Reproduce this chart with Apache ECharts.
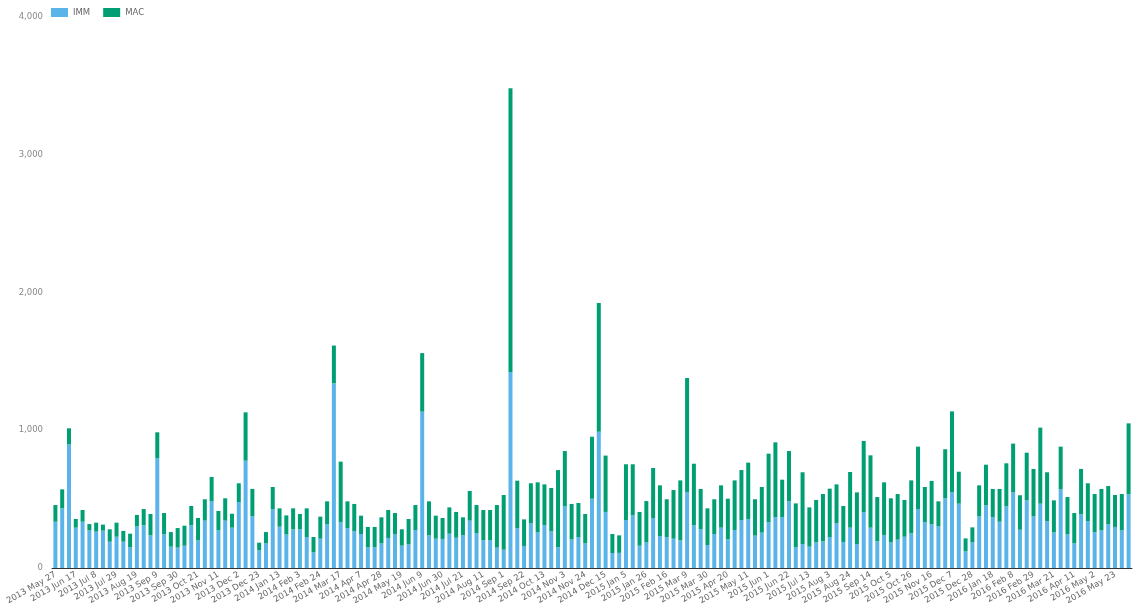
<!DOCTYPE html>
<html>
<head>
<meta charset="utf-8">
<script src="https://cdn.jsdelivr.net/npm/echarts@6/dist/echarts.min.js"></script>
<style>html,body{margin:0;padding:0;background:#fff}#c{width:1137px;height:609px}</style>
</head>
<body>
<div id="c"></div>
<script>
// Weekly categories, starting 2013 May 27 (159 weeks)
const startDate = [2013, 4, 27];
const weekCount = 159;
const monthNames = ['Jan','Feb','Mar','Apr','May','Jun','Jul','Aug','Sep','Oct','Nov','Dec'];
const categories = [];
for (let i = 0; i < weekCount; i++) {
  const d = new Date(Date.UTC(startDate[0], startDate[1], startDate[2] + 7 * i));
  categories.push(d.getUTCFullYear() + ' ' + monthNames[d.getUTCMonth()] + ' ' + d.getUTCDate());
}

const imm = [336,433,898,293,336,273,264,271,191,227,191,150,302,310,237,796,244,155,148,162,
310,201,344,484,273,344,293,479,779,375,128,179,426,300,244,281,281,225,114,213,
317,1340,332,290,266,247,150,150,179,218,244,162,172,276,1135,237,213,211,249,220,
237,344,252,201,201,148,133,1422,288,160,324,259,310,266,150,448,208,225,179,503,
990,407,109,110,348,382,162,186,363,232,223,213,201,552,310,281,167,247,293,208,
276,348,356,235,257,332,370,370,484,150,174,155,186,194,225,324,189,293,174,404,
293,194,240,186,206,227,252,428,332,317,302,506,549,467,121,186,375,455,368,336,
448,549,278,491,375,467,339,259,571,244,179,390,339,259,273,317,298,273,535];

const mac = [121,138,116,63,85,46,65,44,90,102,78,99,83,118,155,189,155,106,142,145,
140,162,155,177,141,162,101,136,351,199,56,82,162,133,138,152,111,208,111,160,
167,275,440,194,199,133,148,148,189,203,155,119,184,181,425,247,167,152,191,187,
131,215,205,220,220,309,397,2061,346,193,291,363,297,315,561,401,257,247,213,450,
933,409,138,127,405,371,245,300,363,368,276,353,435,827,447,293,266,252,307,295,
360,363,409,264,331,498,542,271,365,319,521,285,308,343,351,283,261,404,375,518,
525,321,382,320,331,267,384,453,256,315,182,356,588,232,94,109,225,295,206,238,
312,354,250,346,344,552,356,232,310,271,220,329,276,278,301,278,232,264,515];

const yTicks = { min: 0, max: 4000, interval: 1000 };

const chart = echarts.init(document.getElementById('c'), null, { renderer: 'canvas' });
const fontFamily = '"DejaVu Sans", Verdana, sans-serif';
chart.setOption({
  animation: false,
  textStyle: { fontFamily: fontFamily },
  legend: {
    left: 46, top: 3,
    icon: 'rect', itemWidth: 17, itemHeight: 9, itemGap: 13,
    textStyle: { fontSize: 8.5, color: '#666', fontFamily: fontFamily },
    data: ['IMM', 'MAC']
  },
  grid: { left: 52, right: 5, top: 17, bottom: 41, containLabel: false },
  xAxis: {
    type: 'category',
    data: categories,
    axisLine: { lineStyle: { color: '#333', width: 1 } },
    axisTick: { show: false },
    axisLabel: { interval: 2, rotate: 30, fontSize: 8.5, color: '#666', margin: 6, fontFamily: fontFamily }
  },
  yAxis: {
    type: 'value',
    min: yTicks.min, max: yTicks.max, interval: yTicks.interval,
    axisLine: { show: false },
    axisTick: { show: false },
    splitLine: { show: false },
    axisLabel: { fontSize: 8.5, color: '#888', margin: 9, fontFamily: fontFamily }
  },
  series: [
    { name: 'IMM', type: 'bar', stack: 'a', data: imm, barWidth: 4,
      itemStyle: { color: '#5ab4ea' } },
    { name: 'MAC', type: 'bar', stack: 'a', data: mac, barWidth: 4,
      itemStyle: { color: '#009e73' } }
  ]
});
</script>
</body>
</html>
